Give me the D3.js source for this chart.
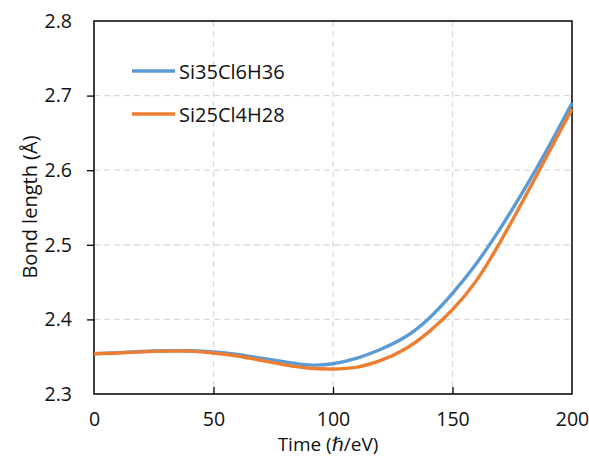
<!DOCTYPE html>
<html>
<head>
<meta charset="utf-8">
<script src="https://cdn.jsdelivr.net/npm/d3@7"></script>
<style>
  body { margin: 0; background: #fff; }
  text { font-family: "Open Sans", "DejaVu Sans", sans-serif; fill: #111; }
</style>
</head>
<body>
<div id="graph"></div>
<script>
// data
const times = [0, 10, 20, 30, 40, 50, 60, 70, 80, 90, 100, 110, 120, 130, 140, 150, 160, 170, 180, 190, 200];
const si35 = [2.354, 2.3555, 2.357, 2.358, 2.358, 2.3565, 2.353, 2.348, 2.343, 2.339, 2.3405, 2.348, 2.360, 2.376, 2.401, 2.435, 2.475, 2.522, 2.574, 2.630, 2.690];
const si25 = [2.354, 2.355, 2.3565, 2.3575, 2.3575, 2.355, 2.351, 2.345, 2.339, 2.3345, 2.3335, 2.336, 2.345, 2.360, 2.383, 2.413, 2.452, 2.504, 2.562, 2.622, 2.682];
const seriesNames = ['Si35Cl6H36', 'Si25Cl4H28'];
const xTicks = [0, 50, 100, 150, 200];
const yTicks = [2.3, 2.4, 2.5, 2.6, 2.7, 2.8];

const w = 589, h = 456;
const pad_left = 94, pad_right = 572, pad_top = 21, pad_bottom = 394;
const colors = ['#5B9BD5', '#ED7D31'];

const svg = d3.select('#graph').append('svg')
  .attr('width', w).attr('height', h);

const xScale = d3.scaleLinear().domain([0, 200]).range([pad_left, pad_right]);
const yScale = d3.scaleLinear().domain([2.3, 2.8]).range([pad_bottom, pad_top]);

// grid
svg.append('g').selectAll('line')
  .data(xTicks.slice(1, -1)).enter().append('line')
  .attr('x1', d => xScale(d)).attr('x2', d => xScale(d))
  .attr('y1', pad_top).attr('y2', pad_bottom)
  .attr('stroke', '#d9d9d9').attr('stroke-width', 1.2).attr('stroke-dasharray', '6,4');
svg.append('g').selectAll('line')
  .data(yTicks.slice(1, -1)).enter().append('line')
  .attr('x1', pad_left).attr('x2', pad_right)
  .attr('y1', d => yScale(d)).attr('y2', d => yScale(d))
  .attr('stroke', '#d9d9d9').attr('stroke-width', 1.2).attr('stroke-dasharray', '6,4');

// x-axis (ticks inside)
const xAxis = d3.axisBottom(xScale).tickValues(xTicks).tickSize(-7).tickPadding(18).tickFormat(d3.format('d'));
const gx = svg.append('g').attr('transform', 'translate(0,' + pad_bottom + ')').call(xAxis);
// y-axis (ticks outside)
const yAxis = d3.axisLeft(yScale).tickValues(yTicks).tickSize(7).tickPadding(15).tickFormat(d3.format('.1f'));
const gy = svg.append('g').attr('transform', 'translate(' + pad_left + ',0)').call(yAxis);

[gx, gy].forEach(g => {
  g.select('.domain').remove();
  g.selectAll('.tick line').attr('stroke', '#000').attr('stroke-width', 1.3);
  g.selectAll('.tick text').attr('font-size', 19.5).attr('fill', '#111')
    .attr('font-family', '"Open Sans", sans-serif');
});
gx.selectAll('.tick').filter(d => d === 0 || d === 200).select('line').remove();
gy.selectAll('.tick').filter(d => d === 2.3 || d === 2.8).select('line').remove();

// frame
svg.append('rect')
  .attr('x', pad_left).attr('y', pad_top)
  .attr('width', pad_right - pad_left).attr('height', pad_bottom - pad_top)
  .attr('fill', 'none').attr('stroke', '#000').attr('stroke-width', 1.5);

// lines
const line = d3.line()
  .x((d, i) => xScale(times[i]))
  .y(d => yScale(d))
  .curve(d3.curveNatural);

[si35, si25].forEach((s, i) => {
  svg.append('path')
    .attr('d', line(s))
    .attr('fill', 'none')
    .attr('stroke', colors[i])
    .attr('stroke-width', 3.4);
});

// legend
seriesNames.forEach((name, i) => {
  const y = 71 + i * 43;
  svg.append('line')
    .attr('x1', 132).attr('x2', 175)
    .attr('y1', y).attr('y2', y)
    .attr('stroke', colors[i]).attr('stroke-width', 3.4);
  svg.append('text')
    .text(name)
    .attr('x', 179).attr('y', y + 8)
    .attr('font-size', 20);
});

// axis labels
svg.append('text')
  .text('Time (ℏ/eV)')
  .attr('x', 328).attr('y', 451)
  .attr('text-anchor', 'middle')
  .attr('font-size', 19);

svg.append('text')
  .text('Bond length (Å)')
  .attr('transform', 'translate(37,207) rotate(-90)')
  .attr('text-anchor', 'middle')
  .attr('font-size', 20);
</script>
</body>
</html>
